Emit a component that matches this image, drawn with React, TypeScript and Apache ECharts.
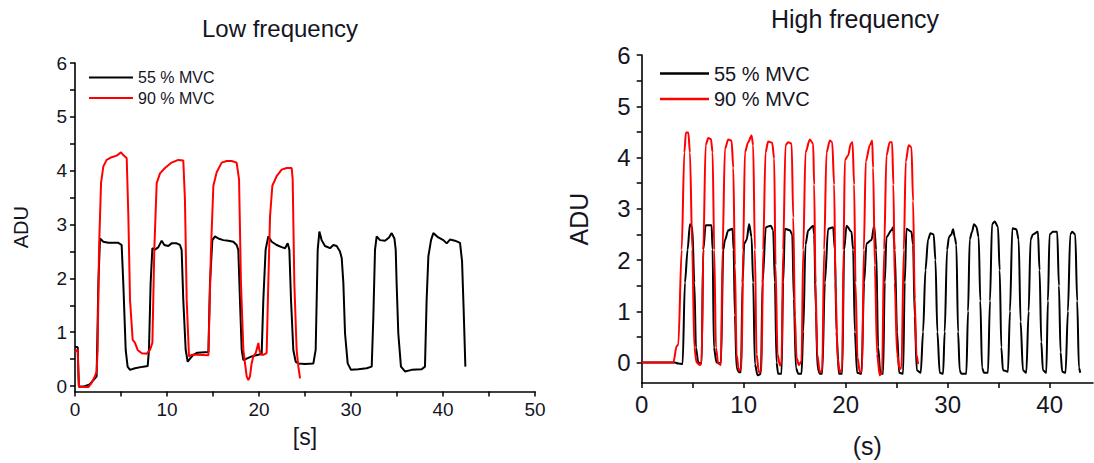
import React, { useEffect, useRef } from "react";
import * as echarts from "echarts";

const FONT = '"Liberation Sans", Arial, Helvetica, sans-serif';
const TEXT = "#15151f";

const seriesNames = ["55 % MVC", "90 % MVC"];
const chartTitles = ["Low frequency", "High frequency"];
const yTickValues = [0, 0.5, 1, 1.5, 2, 2.5, 3, 3.5, 4, 4.5, 5, 5.5, 6];
const yLabelValues = [0, 1, 2, 3, 4, 5, 6];
const lowXTicks = [0, 5, 10, 15, 20, 25, 30, 35, 40, 45, 50];
const lowXLabels = [0, 10, 20, 30, 40, 50];
const highXTicks = [0, 5, 10, 15, 20, 25, 30, 35, 40];
const highXLabels = [0, 10, 20, 30, 40];

// Low frequency, 55 % MVC
const low55 = [
  [0, 0.73], [0.3, 0.72], [0.36, 0.3], [0.42, -0.01], [1.0, -0.01], [1.6, 0.03], [2.0, 0.11], [2.35, 0.18],
  [2.54, 1.91], [2.72, 2.74], [3.08, 2.68], [3.62, 2.66], [4.71, 2.66], [5.07, 2.62], [5.25, 1.91], [5.51, 0.67],
  [5.72, 0.36], [5.98, 0.3], [6.52, 0.33], [7.43, 0.36], [7.9, 0.37], [8.04, 0.67], [8.22, 1.91], [8.41, 2.56],
  [8.7, 2.53], [9.06, 2.58], [9.42, 2.7], [9.71, 2.62], [10.14, 2.6], [10.5, 2.65], [11.05, 2.65], [11.41, 2.62],
  [11.59, 2.53], [11.77, 1.6], [12.03, 0.67], [12.25, 0.45], [12.5, 0.51], [12.86, 0.58], [13.3, 0.62], [14.5, 0.63],
  [14.67, 1.91], [14.93, 2.71], [15.22, 2.78], [15.58, 2.74], [16.12, 2.71], [16.67, 2.7], [17.21, 2.68], [17.57, 2.62],
  [17.75, 2.53], [17.93, 1.6], [18.12, 0.67], [18.3, 0.48], [18.66, 0.51], [19.2, 0.55], [19.93, 0.58], [20.29, 0.6],
  [20.47, 1.6], [20.72, 2.53], [21.01, 2.78], [21.38, 2.68], [21.92, 2.62], [22.46, 2.58], [22.83, 2.56], [23.12, 2.65],
  [23.3, 2.53], [23.48, 1.6], [23.73, 0.67], [23.99, 0.45], [24.28, 0.42], [25.0, 0.41], [25.91, 0.42], [26.16, 0.67],
  [26.38, 2.53], [26.56, 2.87], [26.81, 2.71], [27.17, 2.6], [27.72, 2.56], [28.08, 2.62], [28.44, 2.6], [28.8, 2.5],
  [28.99, 2.38], [29.17, 1.91], [29.35, 0.98], [29.64, 0.42], [30.0, 0.3], [30.8, 0.31], [31.7, 0.33], [32.25, 0.36],
  [32.43, 1.29], [32.61, 2.53], [32.79, 2.78], [33.15, 2.71], [33.7, 2.7], [34.13, 2.76], [34.42, 2.84], [34.72, 2.74],
  [34.86, 2.53], [34.96, 1.91], [35.14, 0.98], [35.43, 0.36], [35.87, 0.27], [36.59, 0.3], [37.68, 0.31], [38.04, 0.36],
  [38.22, 1.6], [38.41, 2.41], [38.7, 2.71], [38.95, 2.84], [39.49, 2.76], [40.04, 2.71], [40.4, 2.65], [40.76, 2.72],
  [41.3, 2.7], [41.85, 2.66], [42.07, 2.32], [42.25, 1.39], [42.43, 0.36],
];

// Low frequency, 90 % MVC
const low90 = [
  [0, 0.64], [0.29, 0.67], [0.36, 0.3], [0.44, -0.02], [1.45, -0.02], [1.81, 0.06], [2.17, 0.18], [2.35, 0.27],
  [2.46, 0.67], [2.61, 2.53], [2.83, 3.77], [3.08, 4.08], [3.44, 4.2], [3.99, 4.25], [4.53, 4.28], [5.0, 4.34],
  [5.25, 4.29], [5.62, 4.23], [5.8, 3.15], [5.98, 1.6], [6.27, 0.86], [6.52, 0.8], [6.81, 0.67], [7.25, 0.61],
  [7.79, 0.6], [8.15, 0.67], [8.41, 0.8], [8.62, 2.53], [8.88, 3.77], [9.24, 3.95], [9.78, 4.05], [10.5, 4.15],
  [11.23, 4.2], [11.77, 4.19], [11.95, 3.46], [12.14, 1.6], [12.39, 0.55], [12.68, 0.58], [13.22, 0.58], [14.5, 0.57],
  [14.56, 1.0], [14.78, 2.53], [15.04, 3.72], [15.4, 3.97], [15.94, 4.15], [16.49, 4.18], [17.03, 4.18], [17.57, 4.15],
  [17.83, 3.84], [18.04, 1.91], [18.3, 0.67], [18.48, 0.42], [18.66, 0.18], [18.84, 0.11], [19.02, 0.18], [19.2, 0.42],
  [19.38, 0.55], [19.64, 0.61], [19.93, 0.8], [20.04, 0.67], [20.22, 0.58], [20.47, 0.58], [20.83, 0.61], [21.01, 1.91],
  [21.2, 3.15], [21.45, 3.72], [21.92, 3.9], [22.46, 4.02], [23.01, 4.05], [23.55, 4.05], [23.66, 3.84], [23.84, 1.91],
  [24.09, 0.67], [24.28, 0.36], [24.46, 0.14],
];

// High frequency, 55 % MVC
const high55 = [
  [0, 0], [3.26, 0], [3.59, -0.02], [4.01, -0.03], [4.24, 1.56], [4.5, 2.2], [4.73, 2.7], [4.96, 2.64], [5.16, 1.56],
  [5.32, 0.29], [5.55, 0.0], [5.87, -0.02], [6.04, 2.2], [6.27, 2.68], [6.85, 2.68], [6.95, 2.2], [7.08, 0.29],
  [7.34, 0.0], [7.77, -0.02], [8.0, 2.2], [8.16, 2.39], [8.49, 2.58], [8.91, 2.61], [9.01, 2.2], [9.14, 0.92],
  [9.3, -0.1], [9.53, -0.19], [9.73, -0.19], [9.89, 1.56], [10.05, 2.32], [10.28, 2.39], [10.54, 2.7], [10.77, 2.45],
  [10.93, 1.56], [11.1, -0.03], [11.36, -0.25], [11.69, -0.22], [11.85, 1.56], [12.17, 2.64], [12.66, 2.67],
  [12.89, 2.58], [13.06, 1.56], [13.22, 0.0], [13.38, -0.22], [13.71, -0.22], [13.87, 1.56], [14.04, 2.61],
  [14.53, 2.58], [14.76, 2.5], [14.92, 1.24], [15.12, -0.1], [15.35, -0.22], [15.67, -0.22], [15.84, 0.6],
  [16.06, 2.3], [16.33, 2.58], [16.81, 2.67], [16.91, 2.5], [17.08, 1.0], [17.24, -0.1], [17.47, -0.22],
  [17.7, -0.22], [17.96, 1.56], [18.28, 2.61], [18.77, 2.64], [18.94, 2.2], [19.1, 0.6], [19.33, -0.22],
  [19.66, -0.22], [19.85, 2.2], [20.08, 2.67], [20.57, 2.55], [20.73, 2.2], [20.9, 0.6], [21.12, -0.2],
  [21.55, -0.22], [21.81, 1.56], [22.04, 2.32], [22.53, 2.39], [22.79, 2.67], [22.99, 2.2], [23.18, 0.3],
  [23.41, -0.22], [23.67, -0.22], [23.83, 1.56], [24.0, 2.45], [24.49, 2.58], [24.65, 2.64], [24.81, 2.2],
  [25.04, 0.6], [25.24, -0.2], [25.63, -0.22], [25.79, 1.56], [25.96, 2.61], [26.45, 2.55], [26.61, 2.3],
  [26.77, 0.9], [26.97, -0.15], [27.36, -0.2], [27.59, 0.6], [27.82, 1.8], [28.08, 2.4], [28.31, 2.52],
  [28.63, 2.5], [28.8, 2.0], [28.99, 0.6], [29.22, -0.2], [29.55, -0.22], [29.71, 0.6], [29.94, 2.2],
  [30.13, 2.45], [30.36, 2.5], [30.53, 2.6], [30.69, 2.45], [30.85, 2.3], [31.02, 0.6], [31.18, -0.15],
  [31.34, -0.22], [31.83, -0.22], [32.0, 1.0], [32.16, 2.4], [32.39, 2.55], [32.58, 2.7], [32.81, 2.65],
  [33.04, 2.45], [33.2, 1.2], [33.37, -0.1], [33.56, -0.2], [33.95, -0.2], [34.15, 1.2], [34.35, 2.7],
  [34.61, 2.75], [34.93, 2.65], [35.1, 1.8], [35.26, 0.3], [35.42, -0.15], [35.91, -0.18], [36.11, 1.0],
  [36.34, 2.62], [36.73, 2.6], [36.96, 2.4], [37.15, 0.8], [37.38, -0.15], [37.71, -0.2], [37.94, 1.0],
  [38.13, 2.4], [38.36, 2.5], [38.85, 2.55], [39.01, 1.8], [39.18, 0.4], [39.34, -0.15], [39.67, -0.2],
  [39.83, 1.2], [39.99, 2.5], [40.32, 2.55], [40.74, 2.55], [40.91, 1.5], [41.07, 0.2], [41.23, -0.18],
  [41.56, -0.2], [41.79, 1.0], [42.02, 2.5], [42.21, 2.55], [42.51, 2.5], [42.7, 1.2], [42.87, -0.1], [43.0, -0.2],
];

// High frequency, 90 % MVC
const high90 = [
  [0, 0], [3.1, 0], [3.43, 0.32], [3.59, 0.35], [3.92, 2.2], [4.18, 4.1], [4.34, 4.49], [4.57, 4.49], [4.73, 4.1],
  [4.96, 2.2], [5.16, 0.29], [5.38, 0.0], [5.71, -0.05], [5.87, 0.0], [6.04, 2.2], [6.27, 4.24], [6.53, 4.38],
  [6.79, 4.36], [6.95, 4.1], [7.11, 2.2], [7.28, 0.29], [7.51, -0.02], [7.77, -0.05], [7.93, 2.2], [8.16, 4.17],
  [8.49, 4.35], [8.81, 4.33], [8.98, 3.8], [9.14, 1.9], [9.3, 0.16], [9.53, -0.16], [9.79, -0.1], [9.95, 2.2],
  [10.12, 4.1], [10.44, 4.3], [10.77, 4.43], [10.93, 4.24], [11.1, 2.2], [11.26, 0.16], [11.49, -0.19],
  [11.75, -0.16], [11.91, 2.2], [12.14, 4.1], [12.4, 4.31], [12.79, 4.29], [12.99, 3.98], [13.12, 1.9],
  [13.32, 0.16], [13.55, -0.06], [13.71, 0.0], [13.87, 2.2], [14.1, 4.24], [14.36, 4.3], [14.7, 4.27],
  [14.86, 2.83], [15.02, 0.92], [15.18, 0.1], [15.41, -0.05], [15.67, 0.03], [15.84, 2.2], [16.06, 4.1],
  [16.49, 4.35], [16.81, 4.27], [16.91, 3.47], [17.04, 1.56], [17.21, 0.16], [17.47, -0.19], [17.7, -0.16],
  [17.89, 2.2], [18.12, 4.1], [18.45, 4.33], [18.68, 4.3], [18.87, 3.47], [19.0, 1.56], [19.2, 0.1],
  [19.43, -0.19], [19.66, -0.13], [19.79, 2.2], [19.92, 3.95], [20.24, 4.04], [20.5, 4.27], [20.67, 4.3],
  [20.83, 3.47], [20.96, 1.56], [21.16, 0.1], [21.39, -0.19], [21.61, -0.16], [21.78, 2.2], [21.97, 3.92],
  [22.37, 4.24], [22.6, 4.33], [22.69, 3.8], [22.86, 1.9], [23.08, 0.16], [23.34, -0.25], [23.57, -0.19],
  [23.77, 2.2], [24.0, 4.04], [24.32, 4.3], [24.55, 4.3], [24.68, 3.47], [24.81, 1.56], [25.04, 0.16],
  [25.3, -0.13], [25.47, -0.1], [25.7, 2.2], [25.89, 3.92], [26.18, 4.24], [26.45, 4.2], [26.61, 3.15],
  [26.77, 1.24], [26.94, 0.16], [27.1, -0.03],
];

function axisLine() {
  return { show: true, onZero: false, lineStyle: { color: "#000", width: 1.6 } };
}

function xAxisFor(gridIndex: number, max: number, ticks: number[], labels: number[], name: string, fontSize: number, nameSize: number, nameGap: number) {
  return {
    type: "value",
    gridIndex,
    min: 0,
    max,
    interval: 5,
    name,
    nameLocation: "middle",
    nameGap,
    nameTextStyle: { fontFamily: FONT, fontSize: nameSize, color: TEXT },
    axisLine: axisLine(),
    axisTick: { show: true, inside: false, length: 5, lineStyle: { color: "#000", width: 1.5 }, customValues: ticks },
    axisLabel: {
      show: true,
      margin: 9,
      fontFamily: FONT,
      fontSize,
      color: TEXT,
      customValues: labels,
      formatter: (v: number) => (v % 10 === 0 ? String(v) : ""),
    },
    splitLine: { show: false },
  };
}

function yAxisFor(gridIndex: number, min: number, fontSize: number, nameSize: number, nameGap: number, margin: number) {
  return {
    type: "value",
    gridIndex,
    min,
    max: 6,
    name: "ADU",
    nameLocation: "middle",
    nameRotate: 90,
    nameGap,
    nameTextStyle: { fontFamily: FONT, fontSize: nameSize, color: TEXT },
    axisLine: axisLine(),
    axisTick: { show: true, inside: false, length: 5, lineStyle: { color: "#000", width: 1.5 }, customValues: yTickValues },
    axisLabel: {
      show: true,
      margin,
      fontFamily: FONT,
      fontSize,
      color: TEXT,
      customValues: yLabelValues,
      formatter: (v: number) => (Number.isInteger(v) ? String(v) : ""),
    },
    splitLine: { show: false },
  };
}

export default function App() {
  const ref = useRef<HTMLDivElement>(null);

  useEffect(() => {
    if (!ref.current) return;
    const chart = echarts.init(ref.current, null, { renderer: "svg" });
    const option = {
      animation: false,
      backgroundColor: "#ffffff",
      title: [
        {
          text: chartTitles[0],
          left: 275,
          top: 11,
          textAlign: "center",
          textStyle: { fontFamily: FONT, fontSize: 24, fontWeight: "normal", color: TEXT },
        },
        {
          text: chartTitles[1],
          left: 850,
          top: 1,
          textAlign: "center",
          textStyle: { fontFamily: FONT, fontSize: 25, fontWeight: "normal", color: TEXT },
        },
      ],
      legend: [
        {
          left: 84,
          top: 64,
          orient: "vertical",
          icon: "rect",
          itemWidth: 44,
          itemHeight: 2,
          itemGap: 3.6,
          selectedMode: false,
          data: seriesNames,
          textStyle: { fontFamily: FONT, fontSize: 16, lineHeight: 17, color: TEXT },
        },
        {
          left: 655,
          top: 58,
          orient: "vertical",
          icon: "rect",
          itemWidth: 49,
          itemHeight: 2.5,
          itemGap: 4.5,
          selectedMode: false,
          data: seriesNames,
          textStyle: { fontFamily: FONT, fontSize: 20, lineHeight: 21, color: TEXT },
        },
      ],
      grid: [
        { left: 75, top: 63, width: 460, height: 328.4 },
        { left: 641.7, top: 55, width: 451.3, height: 334 },
      ],
      xAxis: [
        xAxisFor(0, 50, lowXTicks, lowXLabels, "[s]", 19, 23, 34),
        xAxisFor(1, 44.25, highXTicks, highXLabels, "(s)", 24, 25, 50),
      ],
      yAxis: [yAxisFor(0, -0.1, 19, 20, 44, 8), yAxisFor(1, -0.4, 24, 25, 50, 11)],
      series: [
        {
          name: seriesNames[0],
          type: "line",
          xAxisIndex: 0,
          yAxisIndex: 0,
          data: low55,
          showSymbol: false,
          symbol: "none",
          lineStyle: { color: "#000000", width: 2 },
          itemStyle: { color: "#000000" },
          z: 2,
        },
        {
          name: seriesNames[1],
          type: "line",
          xAxisIndex: 0,
          yAxisIndex: 0,
          data: low90,
          showSymbol: false,
          symbol: "none",
          lineStyle: { color: "#ff0000", width: 2 },
          itemStyle: { color: "#ff0000" },
          z: 3,
        },
        {
          name: seriesNames[0],
          type: "line",
          xAxisIndex: 1,
          yAxisIndex: 1,
          data: high55,
          showSymbol: false,
          symbol: "none",
          smooth: 0.3,
          smoothMonotone: "x",
          lineStyle: { color: "#000000", width: 2 },
          itemStyle: { color: "#000000" },
          z: 2,
        },
        {
          name: seriesNames[1],
          type: "line",
          xAxisIndex: 1,
          yAxisIndex: 1,
          data: high90,
          showSymbol: false,
          symbol: "none",
          smooth: 0.3,
          smoothMonotone: "x",
          lineStyle: { color: "#ff0000", width: 2 },
          itemStyle: { color: "#ff0000" },
          z: 3,
        },
      ],
    };
    chart.setOption(option as any);
    return () => chart.dispose();
  }, []);

  return (
    <div
      ref={ref}
      style={{ position: "fixed", left: 0, top: 0, width: 1094, height: 463, background: "#fff" }}
    />
  );
}
